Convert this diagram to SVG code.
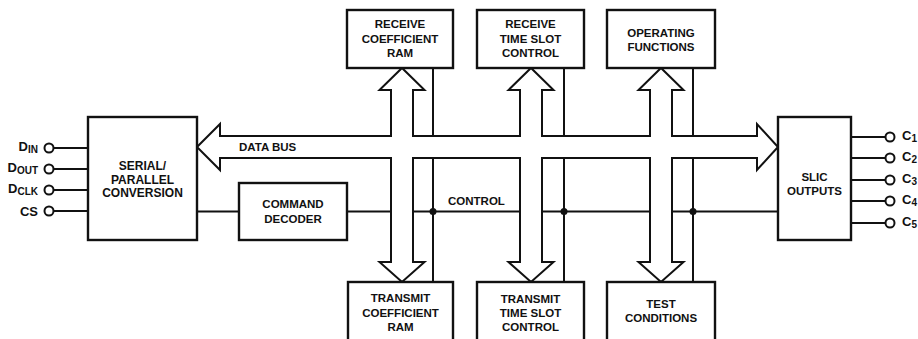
<svg xmlns="http://www.w3.org/2000/svg" width="918" height="339" viewBox="0 0 918 339">
<style>
.box{fill:#fff;stroke:#111;stroke-width:2.4}
.ln{fill:none;stroke:#111;stroke-width:2}
.bus{fill:#fff;stroke:#111;stroke-width:2;stroke-linejoin:miter}
.pin{fill:#fff;stroke:#111;stroke-width:2}
.dot{fill:#111}
text{font-family:"Liberation Sans",Arial,Helvetica,sans-serif;font-weight:bold;font-size:11.5px;fill:#111}
.c{text-anchor:middle}
.pl{font-size:13px}
.sub{font-size:10px}
</style>
<rect width="918" height="339" fill="#fff"/>
<g id="connectors">
  <path class="ln" d="M197,211.5 H239 M347,211.5 H778"/>
  <path class="ln" d="M433,68 V136 M433,158 V282 M564,68 V136 M564,158 V282 M693,68 V136 M693,158 V282"/>
  <path class="ln" d="M53.5,148 H88 M53.5,169 H88 M53.5,190 H88 M53.5,211 H88"/>
  <path class="ln" d="M851,137 H885.5 M851,158 H885.5 M851,180 H885.5 M851,201 H885.5 M851,223 H885.5"/>
  <path class="bus" d="M197,147 L220,124 L220,136 L391,136 L391,90 L379.5,90 L402,68 L424.5,90 L413,90 L413,136 L520,136 L520,90 L508.5,90 L531,68 L553.5,90 L542,90 L542,136 L650,136 L650,90 L638.5,90 L661,68 L683.5,90 L672,90 L672,136 L757,136 L757,124 L778,147 L757,170 L757,158 L672,158 L672,262 L683.5,262 L661,282 L638.5,262 L650,262 L650,158 L542,158 L542,262 L553.5,262 L531,282 L508.5,262 L520,262 L520,158 L413,158 L413,262 L424.5,262 L402,282 L379.5,262 L391,262 L391,158 L220,158 L220,170 Z"/>
  <circle class="dot" cx="433" cy="211.5" r="3.5"/>
  <circle class="dot" cx="564" cy="211.5" r="3.5"/>
  <circle class="dot" cx="693" cy="211.5" r="3.5"/>
  <text x="239" y="151">DATA BUS</text>
  <text x="448" y="205">CONTROL</text>
</g>
<g id="pins-left">
  <circle class="pin" cx="49" cy="148" r="4.5"/>
  <circle class="pin" cx="49" cy="169" r="4.5"/>
  <circle class="pin" cx="49" cy="190" r="4.5"/>
  <circle class="pin" cx="49" cy="211" r="4.5"/>
  <text class="pl" x="38" y="151" text-anchor="end">D<tspan class="sub" dy="2">IN</tspan></text>
  <text class="pl" x="38" y="172" text-anchor="end">D<tspan class="sub" dy="2">OUT</tspan></text>
  <text class="pl" x="38" y="193" text-anchor="end">D<tspan class="sub" dy="2">CLK</tspan></text>
  <text class="pl" x="38" y="215.5" text-anchor="end">CS</text>
</g>
<g id="pins-right">
  <circle class="pin" cx="890" cy="137" r="4.5"/>
  <circle class="pin" cx="890" cy="158" r="4.5"/>
  <circle class="pin" cx="890" cy="180" r="4.5"/>
  <circle class="pin" cx="890" cy="201" r="4.5"/>
  <circle class="pin" cx="890" cy="223" r="4.5"/>
  <text class="pl" x="902" y="140">C<tspan class="sub" dy="2">1</tspan></text>
  <text class="pl" x="902" y="161">C<tspan class="sub" dy="2">2</tspan></text>
  <text class="pl" x="902" y="183">C<tspan class="sub" dy="2">3</tspan></text>
  <text class="pl" x="902" y="204">C<tspan class="sub" dy="2">4</tspan></text>
  <text class="pl" x="902" y="226">C<tspan class="sub" dy="2">5</tspan></text>
</g>
<g id="serial-parallel">
  <rect class="box" x="88" y="117" width="109" height="123"/>
  <text class="c" x="142.5" y="170" style="font-size:12px">SERIAL/</text>
  <text class="c" x="142.5" y="183.5" style="font-size:12px">PARALLEL</text>
  <text class="c" x="142.5" y="197" style="font-size:12px">CONVERSION</text>
</g>
<g id="command-decoder">
  <rect class="box" x="239" y="183" width="108" height="57"/>
  <text class="c" x="293" y="208">COMMAND</text>
  <text class="c" x="293" y="223">DECODER</text>
</g>
<g id="slic-outputs">
  <rect class="box" x="778" y="117" width="73" height="123"/>
  <text class="c" x="814.5" y="181">SLIC</text>
  <text class="c" x="814.5" y="194.5">OUTPUTS</text>
</g>
<g id="receive-coefficient-ram">
  <rect class="box" x="347" y="10" width="106" height="58"/>
  <text class="c" x="400" y="28">RECEIVE</text>
  <text class="c" x="400" y="42.5">COEFFICIENT</text>
  <text class="c" x="400" y="57">RAM</text>
</g>
<g id="receive-time-slot-control">
  <rect class="box" x="477" y="10" width="107" height="58"/>
  <text class="c" x="530.5" y="28">RECEIVE</text>
  <text class="c" x="530.5" y="42.5">TIME SLOT</text>
  <text class="c" x="530.5" y="57">CONTROL</text>
</g>
<g id="operating-functions">
  <rect class="box" x="607" y="10" width="108" height="58"/>
  <text class="c" x="661" y="37">OPERATING</text>
  <text class="c" x="661" y="50.5">FUNCTIONS</text>
</g>
<g id="transmit-coefficient-ram">
  <rect class="box" x="348" y="282" width="105" height="70"/>
  <text class="c" x="400.5" y="302">TRANSMIT</text>
  <text class="c" x="400.5" y="316.5">COEFFICIENT</text>
  <text class="c" x="400.5" y="330.5">RAM</text>
</g>
<g id="transmit-time-slot-control">
  <rect class="box" x="477" y="282" width="107" height="70"/>
  <text class="c" x="530.5" y="302.5">TRANSMIT</text>
  <text class="c" x="530.5" y="316.5">TIME SLOT</text>
  <text class="c" x="530.5" y="330.5">CONTROL</text>
</g>
<g id="test-conditions">
  <rect class="box" x="607" y="282" width="108" height="70"/>
  <text class="c" x="661" y="308">TEST</text>
  <text class="c" x="661" y="322">CONDITIONS</text>
</g>
</svg>
